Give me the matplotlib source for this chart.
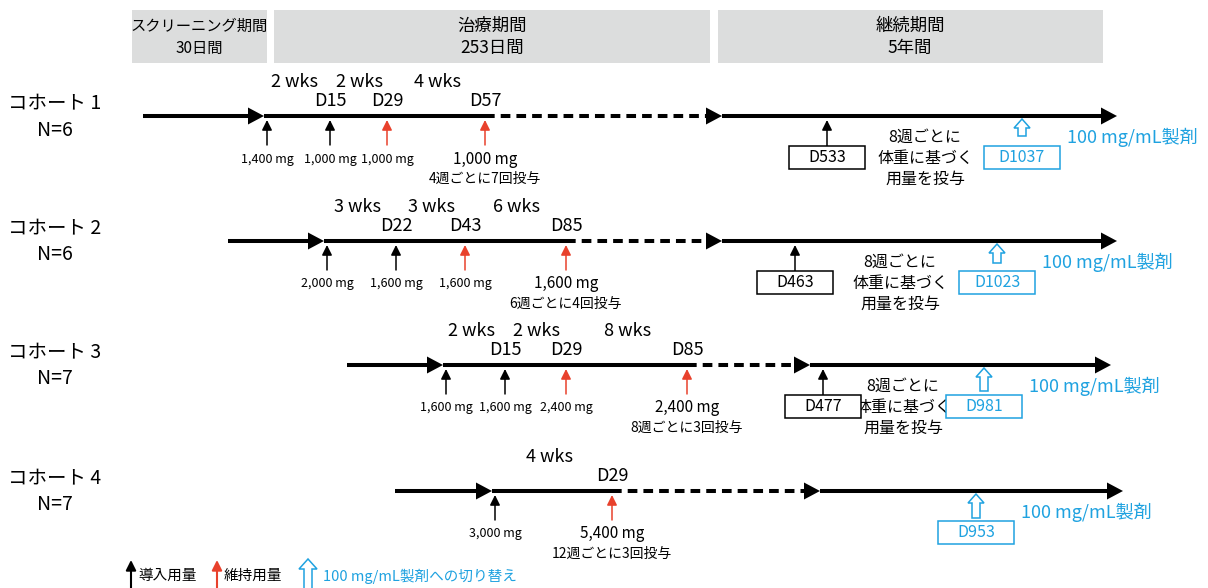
import matplotlib
matplotlib.use('Agg')
import matplotlib.pyplot as plt
from matplotlib.patches import Rectangle, Polygon, FancyArrowPatch

plt.rcParams['font.family'] = ['Noto Sans CJK JP', 'DejaVu Sans']

RED = '#e8412c'
BLUE = '#1fa2e0'
GRAY = '#dcdddd'
NARROW = ['Liberation Sans Narrow', 'Noto Sans CJK JP']

# ---- data ----
period_titles = ["スクリーニング期間", "治療期間", "継続期間"]
period_lengths = ["30日間", "253日間", "5年間"]
cohort_names = ["コホート 1", "コホート 2", "コホート 3", "コホート 4"]
cohort_n = ["N=6", "N=6", "N=7", "N=7"]
intervals = [["2 wks", "2 wks", "4 wks"], ["3 wks", "3 wks", "6 wks"],
             ["2 wks", "2 wks", "8 wks"], ["4 wks"]]
visit_days = [["D15", "D29", "D57"], ["D22", "D43", "D85"],
              ["D15", "D29", "D85"], ["D29"]]
loading_doses = [["1,400 mg", "1,000 mg"], ["2,000 mg", "1,600 mg"],
                 ["1,600 mg", "1,600 mg"], ["3,000 mg"]]
maint_doses = [["1,000 mg", "1,000 mg"], ["1,600 mg", "1,600 mg"],
               ["2,400 mg", "2,400 mg"], ["5,400 mg"]]
maint_schedule = ["4週ごとに7回投与", "6週ごとに4回投与", "8週ごとに3回投与", "12週ごとに3回投与"]
ext_first_day = ["D533", "D463", "D477", None]
ext_text = "8週ごとに\n体重に基づく\n用量を投与"
switch_day = ["D1037", "D1023", "D981", "D953"]
switch_label = "100 mg/mL製剤"
legend_labels = ["導入用量", "維持用量", "100 mg/mL製剤への切り替え"]

# ---- layout (pixels) ----
period_x = [(132, 267), (274, 710), (718, 1103)]
period_text_x = [199, 492, 910]
period_fs = [11, 12.5, 12.5]
row_y = [116, 241, 365, 491]
lead_x0 = [143, 228, 347, 395]
dose_x = [[267, 330, 387, 485], [327, 396, 465, 566],
          [446, 505, 566, 687], [495, 612]]
ext_x = [722, 722, 810, 820]
end_x = [1117, 1117, 1111, 1123]
ext_arrow_x = [827, 795, 823, None]
ext_text_x = [925, 900, 903, None]
switch_x = [1022, 997, 984, 976]
switch_len = [17, 19, 23, 24]

fig = plt.figure(figsize=(12.08, 5.88), dpi=100)
ax = fig.add_axes([0, 0, 1, 1])
ax.set_xlim(0, 1208)
ax.set_ylim(588, 0)
ax.axis('off')

LW = 2.9


def head(x_tip, y):
    ax.add_patch(Polygon([(x_tip, y), (x_tip - 16, y - 8.5), (x_tip - 16, y + 8.5)],
                         closed=True, color='black', lw=0, zorder=4))


def small_arrow(x, y0, y1, color, lw=1.1):
    ax.add_patch(FancyArrowPatch((x, y1), (x, y0), arrowstyle='-|>,head_length=6,head_width=3',
                                 mutation_scale=1, color=color, lw=lw, shrinkA=0, shrinkB=0, zorder=5))


def hollow_arrow(x, y_top, length, hw=8, sw=4, hl=9):
    yb = y_top + length
    pts = [(x, y_top), (x + hw, y_top + hl), (x + sw, y_top + hl), (x + sw, yb),
           (x - sw, yb), (x - sw, y_top + hl), (x - hw, y_top + hl)]
    ax.add_patch(Polygon(pts, closed=True, facecolor='white', edgecolor=BLUE, lw=1.1, zorder=5))


def box(xc, yc, text, color):
    ax.add_patch(Rectangle((xc - 38, yc - 11.5), 76, 23, facecolor='white', edgecolor=color, lw=1.1, zorder=5))
    ax.text(xc, yc, text, ha='center', va='center', fontsize=11.5, color=color, zorder=6)


# header periods
for (x0, x1), tx, fs, t1, t2 in zip(period_x, period_text_x, period_fs, period_titles, period_lengths):
    ax.add_patch(Rectangle((x0, 10), x1 - x0, 53, facecolor=GRAY, edgecolor='none'))
    ax.text(tx, 26, t1, ha='center', va='center', fontsize=fs)
    ax.text(tx, 48, t2, ha='center', va='center', fontsize=fs)

for i, y in enumerate(row_y):
    ax.text(55, y - 13, cohort_names[i], ha='center', va='center', fontsize=14)
    ax.text(55, y + 14, cohort_n[i], ha='center', va='center', fontsize=14)

    xs = dose_x[i]
    tip0 = xs[0] - 3
    # screening lead
    ax.plot([lead_x0[i], tip0 - 10], [y, y], color='black', lw=LW, solid_capstyle='butt')
    head(tip0, y)
    # treatment
    ax.plot([tip0, xs[-1]], [y, y], color='black', lw=LW, solid_capstyle='butt')
    ax.plot([xs[-1], ext_x[i] - 14], [y, y], color='black', lw=LW, ls=(0, (2.4, 1.5)))
    head(ext_x[i], y)
    # extension
    ax.plot([ext_x[i], end_x[i] - 10], [y, y], color='black', lw=LW, solid_capstyle='butt')
    head(end_x[i], y)

    # dose arrows
    n_load = len(loading_doses[i])
    doses = loading_doses[i] + maint_doses[i]
    for k, (x, d) in enumerate(zip(xs, doses)):
        col = 'black' if k < n_load else RED
        small_arrow(x, y + 4, y + 29, col)
        if k == len(xs) - 1:
            ax.text(x, y + 43, d, ha='center', va='center', fontsize=11)
            ax.text(x, y + 63, maint_schedule[i], ha='center', va='center', fontsize=10)
        else:
            ax.text(x, y + 43, d, ha='center', va='center', fontsize=9, family=NARROW)

    # intervals and visit days
    for k, lab in enumerate(intervals[i]):
        shift = -4 if k == 0 else 1
        ax.text((xs[k] + xs[k + 1]) / 2 + shift, y - 34, lab, ha='center', va='center', fontsize=13)
    for x, lab in zip(xs[1:], visit_days[i]):
        ax.text(x, y - 15, lab, ha='center', va='center', fontsize=13)

    # continuation period
    if ext_first_day[i] is not None:
        small_arrow(ext_arrow_x[i], y + 4, y + 30, 'black')
        box(ext_arrow_x[i], y + 41.5, ext_first_day[i], 'black')
        ax.text(ext_text_x[i], y + 42, ext_text, ha='center', va='center', fontsize=11.5,
                linespacing=1.3)
    hollow_arrow(switch_x[i], y + 3, switch_len[i])
    box(switch_x[i], y + 41.5, switch_day[i], BLUE)
    ax.text(switch_x[i] + 45, y + 21, switch_label, ha='left', va='center', fontsize=13, color=BLUE)

# legend
small_arrow(131, 560, 590, 'black', lw=1.5)
ax.text(138, 576, legend_labels[0], ha='left', va='center', fontsize=10.5)
small_arrow(217, 560, 590, RED, lw=1.5)
ax.text(224, 576, legend_labels[1], ha='left', va='center', fontsize=10.5)
hollow_arrow(308, 559, 32, hw=9, sw=4, hl=10)
ax.text(323, 576, legend_labels[2], ha='left', va='center', fontsize=10.5, color=BLUE)

fig.savefig('out.png', dpi=100)
